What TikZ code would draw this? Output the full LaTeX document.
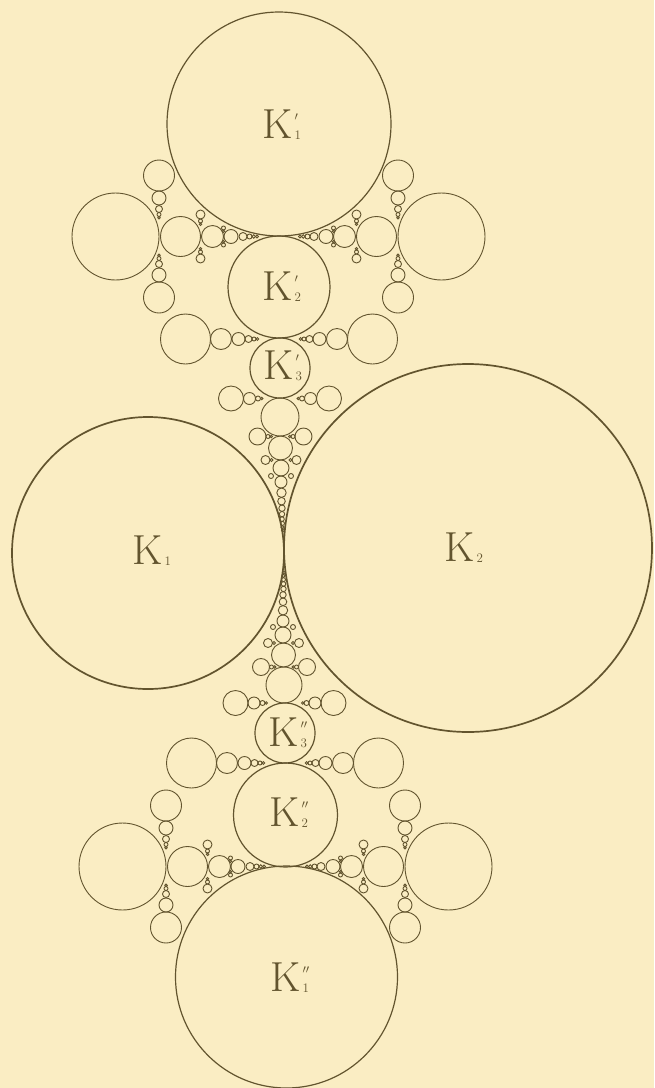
\documentclass[tikz,border=0pt]{standalone}
\usepackage{tikz}
\definecolor{paper}{RGB}{250,237,195}
\definecolor{ink}{RGB}{98,84,46}
\newcommand{\klab}[2]{K\kern1.5pt\raisebox{-1pt}{\fontsize{13}{13}\selectfont\begin{tabular}[b]{@{}l@{}}$#1$\\[6pt]#2\end{tabular}}}

\begin{document}
\begin{tikzpicture}[x=1pt,y=-1pt,
  ring/.style={draw=ink,line width=0.9pt},
  mid/.style={draw=ink,line width=1.2pt},
  big/.style={draw=ink,line width=1.7pt},
  lab/.style={text=ink,font=\fontsize{42}{42}\selectfont,inner sep=0pt}]
\fill[paper] (0,0) rectangle (654,1088);
\useasboundingbox (0,0) rectangle (654,1088);

% the two large circles
\draw[big] (148,553) circle[radius=136];
\draw[big] (468,548) circle[radius=184];

% chains along the axis
\foreach \x/\y/\r in {279/124/112, 279/287/51, 280/368/30, 285/733/30, 285.5/815/52, 286.5/977/111}
  \draw[mid] (\x,\y) circle[radius=\r];
\foreach \x/\y/\r in {280/417/19, 280.5/448/12, 281/468/8, 281/482/6, 281.5/492.7/4.7, 281.5/501.2/3.8,
    282/508.2/3.2, 282/514.1/2.7, 282/519.1/2.3, 282.5/523.4/2, 282.5/527.1/1.7, 283/530.3/1.5,
    284/685/18, 283.5/655/12, 283/635/8, 283/621/6, 283/610.3/4.7, 283/601.8/3.8,
    283/594.8/3.2, 283.5/588.9/2.7, 283.5/583.9/2.3, 283.5/579.6/2, 283.5/575.9/1.7, 284/572.7/1.5}
  \draw[ring] (\x,\y) circle[radius=\r];

% side chains between K1 and K2 of each group
\foreach \cx/\cy in {278.5/236.5, 285.5/866.5} {
  \foreach \d/\r in {163/43.5, 98/20, 66/11, 47.5/7, 35.5/4, 29/2.5, 24.7/1.8, 21.5/1.4}
    \draw[ring] (\cx-\d,\cy) circle[radius=\r] (\cx+\d,\cy) circle[radius=\r];
  \foreach \s in {-119.5,119.5}
    \foreach \h/\r in {61/15.5, 38.5/7, 27.5/3.5, 22/2, 18.8/1.3}
      \draw[ring] (\cx+\s,\cy-\h) circle[radius=\r] (\cx+\s,\cy+\h) circle[radius=\r];
  \foreach \s in {-78,78}
    \foreach \h/\r in {22/4.5, 15.5/2, 12.2/1.3}
      \draw[ring] (\cx+\s,\cy-\h) circle[radius=\r] (\cx+\s,\cy+\h) circle[radius=\r];
  \foreach \s in {-55,55}
    \foreach \h/\r in {8.5/2, 5.3/1.2}
      \draw[ring] (\cx+\s,\cy-\h) circle[radius=\r] (\cx+\s,\cy+\h) circle[radius=\r];
}
\foreach \cx/\cy in {279/339, 285/763}
  \foreach \d/\r in {93.5/25, 58/10.5, 40.5/6.5, 30.5/3.5, 25/2, 21.6/1.4}
    \draw[ring] (\cx-\d,\cy) circle[radius=\r] (\cx+\d,\cy) circle[radius=\r];
\foreach \cx/\cy in {280/398.5, 284.5/703}
  \foreach \d/\r in {49/12.5, 30.5/6, 22/2.5, 18.2/1.3}
    \draw[ring] (\cx-\d,\cy) circle[radius=\r] (\cx+\d,\cy) circle[radius=\r];
\foreach \cx/\cy in {280.5/436.5, 284/667}
  \foreach \d/\r in {23/8.5, 12.5/2, 9.3/1.2}
    \draw[ring] (\cx-\d,\cy) circle[radius=\r] (\cx+\d,\cy) circle[radius=\r];
\foreach \cx/\cy in {281/460, 283.5/643}
  \foreach \d/\r in {15.5/4.5, 9.5/1.5}
    \draw[ring] (\cx-\d,\cy) circle[radius=\r] (\cx+\d,\cy) circle[radius=\r];
\foreach \cx/\cy in {281/476, 283/627}
  \draw[ring] (\cx-10,\cy) circle[radius=2.5] (\cx+10,\cy) circle[radius=2.5];

% labels
\node[lab] (k1) at (152,553) {\klab{}{1}};
\node[lab] (k2) at (464,550) {\klab{}{2}};
\node[lab] (k1a) at (282,127) {\klab{\prime}{1}};
\node[lab] (k2a) at (282,289) {\klab{\prime}{2}};
\node[lab] (k3a) at (283,368) {\klab{\prime}{3}};
\node[lab] (k3b) at (288,735) {\klab{\prime\prime}{3}};
\node[lab] (k2b) at (289,815) {\klab{\prime\prime}{2}};
\node[lab] (k1b) at (290,980) {\klab{\prime\prime}{1}};
\end{tikzpicture}
\end{document}
